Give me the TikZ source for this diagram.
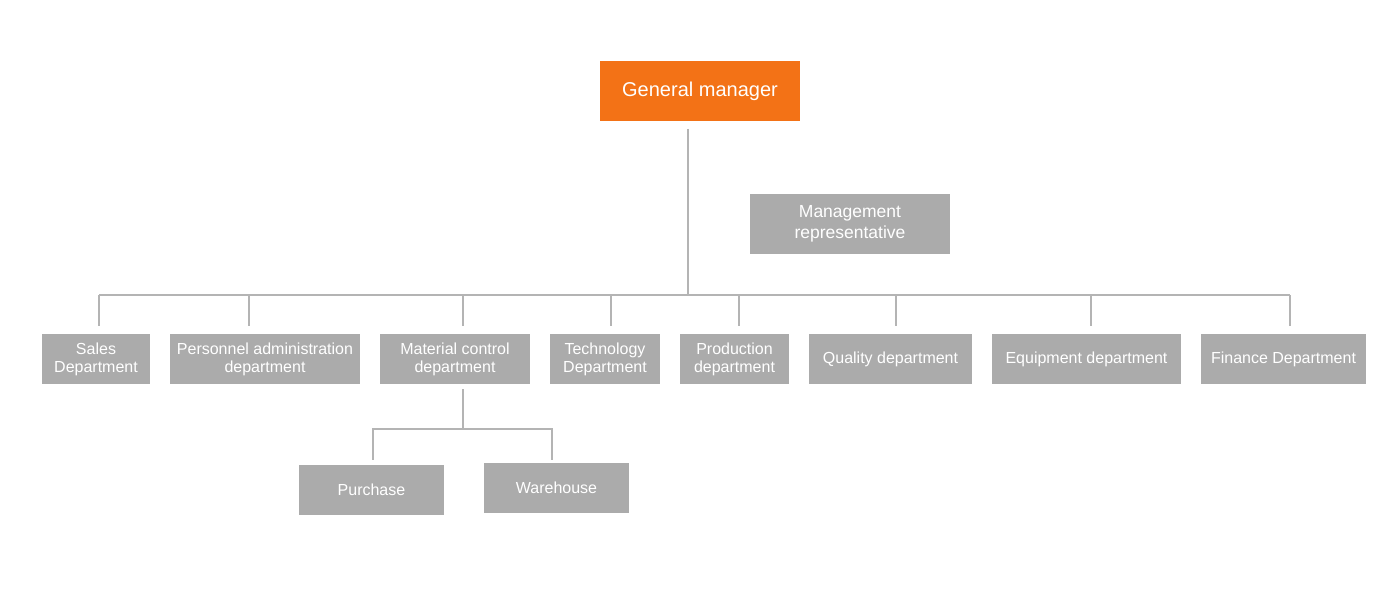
\documentclass[tikz,border=0pt]{standalone}
\usepackage{fontspec}
\setmainfont{Liberation Sans}
\definecolor{gmorange}{HTML}{F37216}
\definecolor{boxgray}{HTML}{ABABAB}
\definecolor{linegray}{HTML}{B4B4B4}
\tikzset{
  box/.style={fill=boxgray, text=white, inner sep=0pt, align=center, minimum height=50pt,
    font=\fontsize{16}{18}\selectfont},
  conn/.style={draw=linegray, line width=2pt}
}
\begin{document}
\begin{tikzpicture}[x=1pt,y=-1pt]
\useasboundingbox[fill=white] (0,0) rectangle (1400,596);
% top
\node[box, fill=gmorange, minimum width=200pt, minimum height=60pt, font=\fontsize{20}{24}\selectfont] (gm) at (700,91) {General manager};
\node[box, minimum width=200pt, minimum height=60pt, font=\fontsize{17.5}{20.5}\selectfont] (mr) at (850,224) {Management\\representative};
% departments
\node[box, minimum width=108pt] (sales) at (96,359) {Sales\\Department};
\node[box, minimum width=190pt] (pers) at (265,359) {Personnel administration\\department};
\node[box, minimum width=150pt] (mat) at (455,359) {Material control\\department};
\node[box, minimum width=110pt] (tech) at (605,359) {Technology\\Department};
\node[box, minimum width=109pt] (prod) at (734.5,359) {Production\\department};
\node[box, minimum width=163pt] (qual) at (890.5,359) {Quality department};
\node[box, minimum width=189pt] (equip) at (1086.5,359) {Equipment department};
\node[box, minimum width=165pt] (fin) at (1283.5,359) {Finance Department};
\node[box, minimum width=145pt] (pur) at (371.5,490) {Purchase};
\node[box, minimum width=145pt] (ware) at (556.5,488) {Warehouse};
% connectors
\coordinate (gmb) at (688,129);
\coordinate (bus) at (688,295);
\coordinate (busL) at (99,295);
\coordinate (busR) at (1290,295);
\draw[conn] (gmb) -- (bus);
\draw[conn] (busL) -- (busR);
\draw[conn] ([xshift=3pt,yshift=8pt]sales.north) -- +(0,-31);
\draw[conn] ([xshift=-16pt,yshift=8pt]pers.north) -- +(0,-31);
\draw[conn] ([xshift=8pt,yshift=8pt]mat.north) -- +(0,-31);
\draw[conn] ([xshift=6pt,yshift=8pt]tech.north) -- +(0,-31);
\draw[conn] ([xshift=4.5pt,yshift=8pt]prod.north) -- +(0,-31);
\draw[conn] ([xshift=5.5pt,yshift=8pt]qual.north) -- +(0,-31);
\draw[conn] ([xshift=4.5pt,yshift=8pt]equip.north) -- +(0,-31);
\draw[conn] ([xshift=6.5pt,yshift=8pt]fin.north) -- +(0,-31);
% material sub-tree
\coordinate (matb) at (463,389);
\coordinate (subbus) at (463,429);
\draw[conn] (matb) -- (subbus);
\draw[conn] ([xshift=1.5pt,yshift=5pt]pur.north) |- ([xshift=-4.5pt]ware.north |- subbus) -- ([xshift=-4.5pt,yshift=3pt]ware.north);
\end{tikzpicture}
\end{document}
